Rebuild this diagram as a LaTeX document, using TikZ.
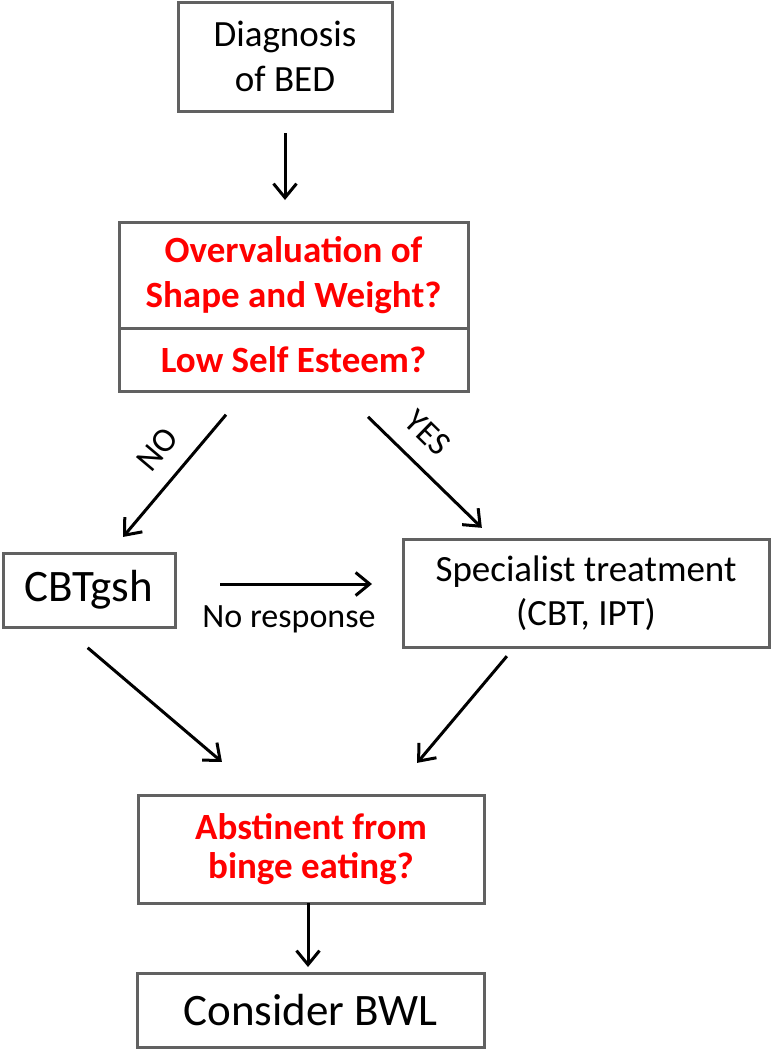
\documentclass[tikz,border=0pt]{standalone}
\usepackage{fontspec}
\setmainfont{Carlito}
\usepackage{tikz}
\usetikzlibrary{positioning}
\usetikzlibrary{arrows.meta}

\begin{document}
\begin{tikzpicture}[x=1pt, y=-1pt, inner sep=0pt, outer sep=0pt,
    box/.style={draw=black!62, line width=3pt, align=center, font=\fontsize{37}{45}\selectfont},
    quest/.style={box, text=red, font=\fontsize{37}{45}\selectfont\bfseries},
    arr/.style={-{Straight Barb[length=14pt,width=23pt]}, line width=3pt},
    lbl/.style={font=\fontsize{34}{40}\selectfont}]

        \useasboundingbox (0,0) rectangle (772,1050);

        % Define nodes
        \node[box, minimum width=214pt, minimum height=109pt] (diag) at (285,56.5) {Diagnosis\\of BED};
        \node[quest, minimum width=349pt, minimum height=106pt] (overval) at (293.5,275) {Overvaluation of\\Shape and Weight?};
        \node[quest, minimum width=349pt, minimum height=63pt, below=0pt of overval] (lowse) {Low Self Esteem?};
        \node[box, minimum width=172pt, minimum height=74pt, font=\fontsize{45}{50}\selectfont] (cbt) at (89,590) {CBTgsh};
        \node[box, minimum width=366pt, minimum height=108pt, font=\fontsize{37}{44}\selectfont] (spec) at (586,593) {Specialist treatment\\(CBT, IPT)};
        \node[quest, minimum width=346pt, minimum height=108pt, font=\fontsize{37}{39}\selectfont\bfseries] (abst) at (311,849) {Abstinent from\\binge eating?};
        \node[box, minimum width=347pt, minimum height=74pt, font=\fontsize{45}{50}\selectfont] (bwl) at (310.5,1010) {Consider BWL};

        % Connect the nodes
        \draw[arr, shorten <=22pt, shorten >=22pt] (diag.south) -- (diag.south |- overval.north);
        \draw[arr, shorten <=31pt, shorten >=21pt] ([xshift=-47.5pt]lowse.south) -- node[lbl, pos=0.48, sloped, above=19pt] {NO} ([xshift=20.5pt]cbt.north);
        \draw[arr, shorten <=37pt, shorten >=16pt] ([xshift=48pt]lowse.south) -- node[lbl, pos=0.43, sloped, above=19pt] {YES} ([xshift=-92.7pt]spec.north);
        \draw[arr, shorten <=45pt, shorten >=31pt] ([yshift=6pt]cbt.east) -- node[lbl, below=22pt] {No response} ([yshift=9pt]spec.west);
        \draw[arr, shorten <=32pt, shorten >=51pt] ([xshift=-25.7pt]cbt.south) -- ([xshift=-50.2pt]abst.north);
        \draw[arr, shorten <=12pt, shorten >=42pt] ([xshift=-71.4pt]spec.south) -- ([xshift=79.1pt]abst.north);
        \draw[arr, shorten >=6pt] ([xshift=-3pt]abst.south) -- ([xshift=-3pt]abst.south |- bwl.north);
      \end{tikzpicture}
\end{document}
